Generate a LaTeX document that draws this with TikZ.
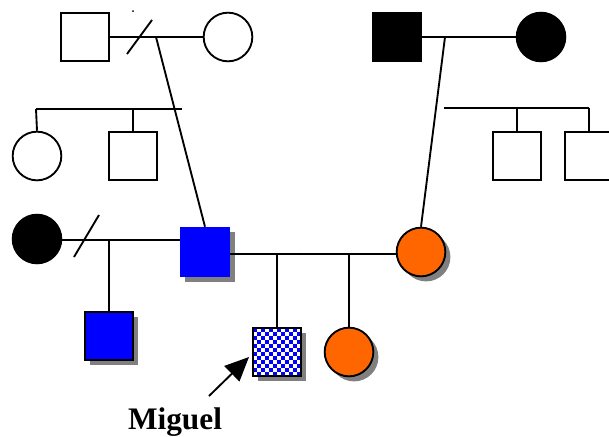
\documentclass[tikz,border=0pt]{standalone}
\usepackage{fontspec}
\setmainfont{Liberation Serif}
\usetikzlibrary{shadows,arrows.meta}
\definecolor{pblue}{HTML}{0000FF}
\definecolor{porange}{HTML}{FF6600}
\definecolor{pshadow}{HTML}{808080}
\begin{document}
\begin{tikzpicture}[x=0.75pt,y=-0.75pt,
  male/.style={draw=black,line width=1.4pt,rectangle,minimum size=36.5pt,inner sep=0pt},
  female/.style={draw=black,line width=1.4pt,circle,minimum size=36.5pt,inner sep=0pt},
  shad/.style={drop shadow={shadow xshift=3.8pt,shadow yshift=-3.8pt,fill=pshadow,opacity=1}},
  link/.style={line width=1.4pt}]
\useasboundingbox (0,0) rectangle (609,436);
% generation I
\node[male] (gf1) at (85,37) {};
\node[female] (gm1) at (228,37) {};
\node[male,fill=black] (gf2) at (397,37) {};
\node[female,fill=black] (gm2) at (541,37) {};
% generation II siblings
\node[female] (aunt) at (37,156) {};
\node[male] (uncle1) at (133,156) {};
\node[male] (uncle2) at (517,156) {};
\node[male] (uncle3) at (589,156) {};
% parents
\node[female,fill=black] (exw) at (37,239) {};
\node[rectangle,minimum size=37.5pt,inner sep=0pt,fill=pblue,shad] (dad) at (205,252) {};
\node[female,fill=porange,shad] (mom) at (421,252) {};
% children
\node[male,fill=pblue,shad] (half) at (109,336) {};
\node[male,fill=white,shad] (miguel) at (277,352) {};
\node[female,fill=porange,shad] (sis) at (349,352) {};
% checkerboard on Miguel
\begin{scope}
\clip (253,328) rectangle (301,376);
\foreach \i in {0,...,11}{
  \foreach \j in {0,...,11}{
    \pgfmathparse{int(mod(\i+\j,2))}
    \ifnum\pgfmathresult=0
      \fill[pblue] (253+4*\i,328+4*\j) rectangle ++(4,4);
    \fi
  }
}
\end{scope}
\node[male] (miguelb) at (277,352) {};
% generation I couples
\draw[link] (gf1) -- (gm1);
\draw[link] (gf2) -- (gm2);
\coordinate (s1a) at (127,54); \coordinate (s1b) at (152,20);
\draw[link] (s1a) -- (s1b);
\fill (133,11) circle (1);
\coordinate (d1) at (156,37);
\draw[link] (d1) -- (dad.north);
\coordinate (d2) at (445,37);
\draw[link] (d2) -- (mom.north);
% sibships
\coordinate (sl1) at (36,109); \coordinate (sl2) at (182,109);
\draw[link] (sl1) -- (sl2);
\draw[link] (sl1) -- (aunt.north);
\draw[link] (uncle1.north |- sl1) -- (uncle1.north);
\coordinate (sr1) at (444,108); \coordinate (sr2) at (589,108);
\draw[link] (sr1) -- (sr2);
\draw[link] (uncle2.north |- sr1) -- (uncle2.north);
\draw[link] (sr2) -- (uncle3.north);
% parents couples
\coordinate (exl) at (61,240);
\draw[link] (exl) -- (exl -| dad.west);
\coordinate (s2a) at (74,257); \coordinate (s2b) at (99,215);
\draw[link] (s2a) -- (s2b);
\draw[link] (half.north |- exl) -- (half.north);
\coordinate (ml) at (230,254);
\draw[link] (ml) -- (ml -| mom.west);
\fill (301,254) circle (1.2);
\draw[link] (miguel.north |- ml) -- (miguel.north);
\draw[link] (sis.north |- ml) -- (sis.north);
% arrow and label
\coordinate (at) at (209,396);
\coordinate (ah) at (249,357);
\draw[link,-{Triangle[length=18pt,width=16pt]}] (at) -- (ah);
\node[anchor=base,font=\fontsize{23.5pt}{26pt}\selectfont\bfseries] (lab) at (175,429) {Miguel};
\end{tikzpicture}
\end{document}
